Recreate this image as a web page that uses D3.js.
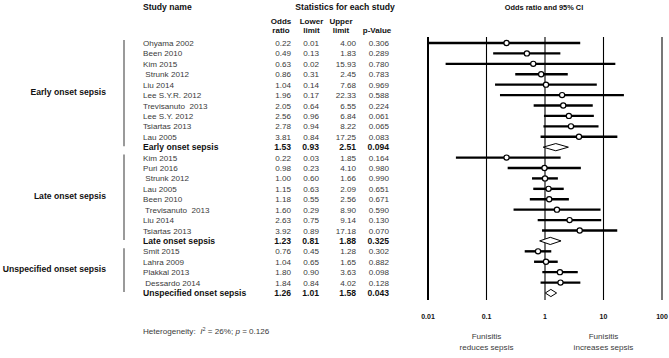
<!DOCTYPE html>
<html>
<head>
<meta charset="utf-8">
<script src="https://cdn.jsdelivr.net/npm/d3@7"></script>
<style>
  html, body { margin: 0; padding: 0; background: #fff; }
  svg text { font-family: "Liberation Sans", Arial, sans-serif; white-space: pre; }
</style>
</head>
<body>
<svg id="chart" width="669" height="358"></svg>
<script>
// ---------- data ----------
const groupNames = ["Early onset sepsis", "Late onset sepsis", "Unspecified onset sepsis"];
const studyNames = [
  "Ohyama 2002", "Been 2010", "Kim 2015", " Strunk 2012", "Liu 2014", "Lee S.Y.R. 2012",
  "Trevisanuto  2013", "Lee S.Y. 2012", "Tsiartas 2013", "Lau 2005", "Early onset sepsis",
  "Kim 2015", "Puri 2016", " Strunk 2012", "Lau 2005", "Been 2010", " Trevisanuto  2013",
  "Liu 2014", "Tsiartas 2013", "Late onset sepsis",
  "Smit 2015", "Lahra 2009", "Plakkal 2013", " Dessardo 2014", "Unspecified onset sepsis"
];
const groupIndex = [0,0,0,0,0,0,0,0,0,0,0, 1,1,1,1,1,1,1,1,1, 2,2,2,2,2];
const isSummary  = [0,0,0,0,0,0,0,0,0,0,1, 0,0,0,0,0,0,0,0,1, 0,0,0,0,1];
const oddsRatio  = [0.22,0.49,0.63,0.86,1.04,1.96,2.05,2.56,2.78,3.81,1.53,
                    0.22,0.98,1.00,1.15,1.18,1.60,2.63,3.92,1.23,
                    0.76,1.04,1.80,1.84,1.26];
const lowerLimit = [0.01,0.13,0.02,0.31,0.14,0.17,0.64,0.96,0.94,0.84,0.93,
                    0.03,0.23,0.60,0.63,0.55,0.29,0.75,0.89,0.81,
                    0.45,0.65,0.90,0.84,1.01];
const upperLimit = [4.00,1.83,15.93,2.45,7.68,22.33,6.55,6.84,8.22,17.25,2.51,
                    1.85,4.10,1.66,2.09,2.56,8.90,9.14,17.18,1.88,
                    1.28,1.65,3.63,4.02,1.58];
const pValue     = ["0.306","0.289","0.780","0.783","0.969","0.588","0.224","0.061","0.065","0.083","0.094",
                    "0.164","0.980","0.990","0.651","0.671","0.590","0.130","0.070","0.325",
                    "0.302","0.882","0.098","0.128","0.043"];
const axisTicks  = [0.01, 0.1, 1, 10, 100];
const axisLabels = ["0.01", "0.1", "1", "10", "100"];

// ---------- layout ----------
const svg = d3.select("#chart");
const FONT = 8.1;
const BFONT = 8.6;
const rows = d3.range(studyNames.length);
const y = d3.scaleLinear().domain([0, studyNames.length - 1]).range([43, 293]);
const x = d3.scaleLog().domain([0.01, 100]).range([428, 662]);
const fmt = d3.format(".2f");

// headers
const hdr = svg.append("g").attr("font-weight", "bold").attr("font-size", BFONT).attr("fill", "#111");
hdr.append("text").attr("x", 143).attr("y", 10).text("Study name");
hdr.append("text").attr("x", 345).attr("y", 10).attr("text-anchor", "middle").text("Statistics for each study");
hdr.append("text").attr("x", 544).attr("y", 10).attr("text-anchor", "middle").attr("font-size", 7.4).text("Odds ratio and 95% CI");
const colCenters = [281, 311.5, 341, 377];
const hdr1 = ["Odds", "Lower", "Upper", ""];
const hdr2 = ["ratio", "limit", "limit", "p-Value"];
hdr1.forEach((t, i) => hdr.append("text").attr("x", colCenters[i]).attr("y", 24).attr("font-size", 8).attr("text-anchor", "middle").text(t));
hdr2.forEach((t, i) => hdr.append("text").attr("x", colCenters[i]).attr("y", 32.5).attr("font-size", 8).attr("text-anchor", "middle").text(t));

// group labels and bars
groupNames.forEach((g, gi) => {
  const members = rows.filter(i => groupIndex[i] === gi && !isSummary[i]);
  const summ = rows.find(i => groupIndex[i] === gi && isSummary[i]);
  const first = members[0], last = members[members.length - 1];
  svg.append("line")
    .attr("x1", 124).attr("x2", 124)
    .attr("y1", y(first) - 3).attr("y2", y(summ) - 1)
    .attr("stroke", "#9a9a9a").attr("stroke-width", 2);
  svg.append("text")
    .attr("x", 106).attr("y", (y(first) + y(last)) / 2 + 3 + 2)
    .attr("text-anchor", "end").attr("font-weight", "bold").attr("font-size", BFONT).attr("fill", "#111")
    .text(g);
});

// table rows
const cols = [
  { xr: 291, v: i => fmt(oddsRatio[i]) },
  { xr: 319, v: i => fmt(lowerLimit[i]) },
  { xr: 356, v: i => fmt(upperLimit[i]) },
  { xr: 389, v: i => pValue[i] }
];
const tbl = svg.append("g");
rows.forEach(i => {
  const bold = isSummary[i] ? "bold" : "normal";
  const col = isSummary[i] ? "#111" : "#3a3a3a";
  const fs = isSummary[i] ? BFONT : FONT;
  tbl.append("text").attr("x", 143).attr("y", y(i) + 3).attr("font-size", fs)
    .attr("font-weight", bold).attr("fill", col).text(studyNames[i]);
  cols.forEach(c => {
    tbl.append("text").attr("x", c.xr).attr("y", y(i) + 3).attr("text-anchor", "end").attr("font-size", fs)
      .attr("font-weight", bold).attr("fill", col).text(c.v(i));
  });
});

// forest plot reference lines
const vTop = y(0) - 6, vBot = y(studyNames.length - 1) + 7;
svg.append("g").selectAll("line").data(axisTicks).join("line")
  .attr("x1", d => x(d)).attr("x2", d => x(d))
  .attr("y1", vTop).attr("y2", vBot)
  .attr("stroke", (d, i) => i === axisTicks.length - 1 ? "#777" : "#000")
  .attr("stroke-width", (d, i) => (i === 0 || i === axisTicks.length - 1) ? 2 : 1.1);

// axis labels
svg.append("g").selectAll("text").data(axisTicks).join("text")
  .attr("x", d => x(d)).attr("y", 319).attr("text-anchor", "middle")
  .attr("font-weight", "bold").attr("font-size", 7).attr("fill", "#111")
  .text((d, i) => axisLabels[i]);

// study CIs and points
const studyRows = rows.filter(i => !isSummary[i]);
const marks = svg.append("g");
marks.selectAll("line.ci").data(studyRows).join("line").attr("class", "ci")
  .attr("x1", i => x(lowerLimit[i])).attr("x2", i => x(upperLimit[i]))
  .attr("y1", i => y(i)).attr("y2", i => y(i))
  .attr("stroke", "#000").attr("stroke-width", 2.4);
marks.selectAll("circle").data(studyRows).join("circle")
  .attr("cx", i => x(oddsRatio[i])).attr("cy", i => y(i)).attr("r", 2.6)
  .attr("fill", "#fff").attr("stroke", "#000").attr("stroke-width", 1.2);

// summary diamonds
const summaryRows = rows.filter(i => isSummary[i]);
marks.selectAll("path.dia").data(summaryRows).join("path").attr("class", "dia")
  .attr("d", i => {
    const cy = y(i), h = 3.6;
    return `M${x(lowerLimit[i])},${cy}L${x(oddsRatio[i])},${cy - h}L${x(upperLimit[i])},${cy}L${x(oddsRatio[i])},${cy + h}Z`;
  })
  .attr("fill", "#fff").attr("stroke", "#000").attr("stroke-width", 1);

// footer
const foot = svg.append("text").attr("x", 143).attr("y", 334).attr("font-size", FONT).attr("fill", "#3a3a3a");
foot.append("tspan").text("Heterogeneity:  ");
foot.append("tspan").attr("font-style", "italic").text("I");
foot.append("tspan").attr("font-size", 5.5).attr("dy", -3).text("2");
foot.append("tspan").attr("dy", 3).text(" = 26%; ");
foot.append("tspan").attr("font-style", "italic").text("p");
foot.append("tspan").text(" = 0.126");

const notes = [
  { v: 0.1, lines: ["Funisitis", "reduces sepsis"] },
  { v: 10, lines: ["Funisitis", "increases sepsis"] }
];
notes.forEach(n => {
  n.lines.forEach((t, k) => {
    svg.append("text").attr("x", x(n.v)).attr("y", 339 + k * 11).attr("text-anchor", "middle")
      .attr("font-size", FONT).attr("fill", "#3a3a3a").text(t);
  });
});
</script>
</body>
</html>
